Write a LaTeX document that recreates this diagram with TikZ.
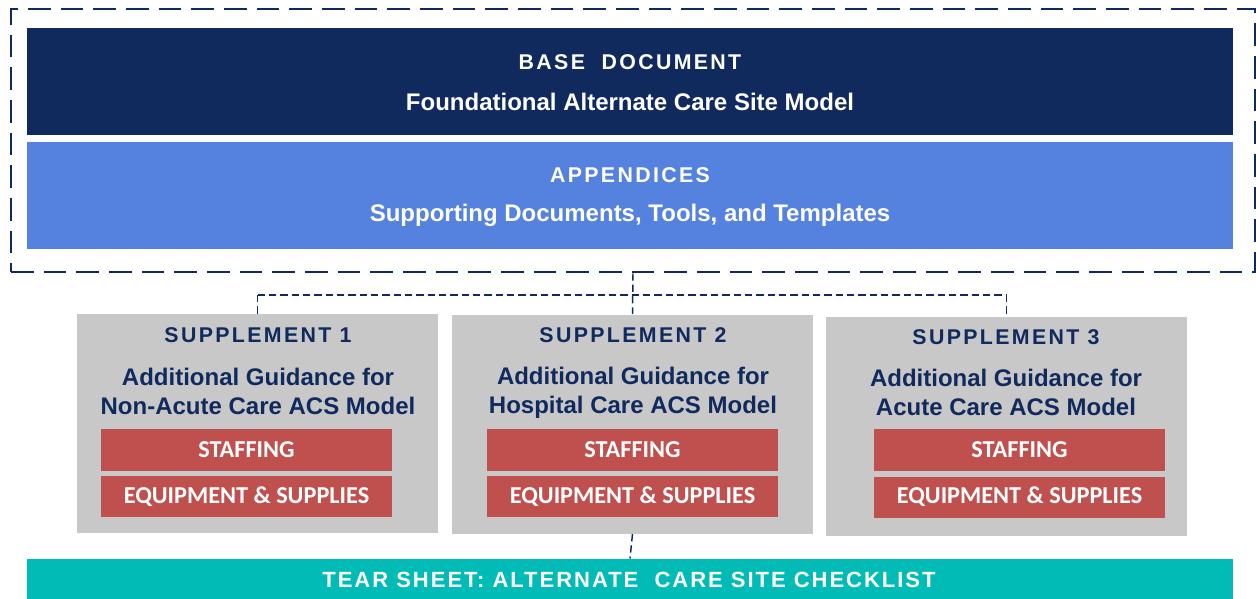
\documentclass[tikz,border=0pt]{standalone}
\usepackage{fontspec}
\setmainfont{Liberation Sans}
\newfontfamily\calfont{Carlito}
\newfontfamily\widefont[LetterSpace=11]{Liberation Sans}
\newfontfamily\tearfont[LetterSpace=9]{Liberation Sans}
\usetikzlibrary{positioning}

\definecolor{navy}{RGB}{16,42,94}
\definecolor{appxblue}{RGB}{84,130,222}
\definecolor{suppgray}{RGB}{200,200,200}
\definecolor{tabred}{RGB}{192,80,77}
\definecolor{tearteal}{RGB}{0,187,182}

\tikzset{every picture/.style={line width=0.75pt}}
\tikzset{
  bigbar/.style={rectangle, inner sep=0pt, minimum width=904.5pt, minimum height=80.25pt},
  suppbox/.style={rectangle, fill=suppgray, inner sep=0pt, minimum width=270.75pt, minimum height=164.25pt},
  tabbox/.style={rectangle, fill=tabred, inner sep=0pt, minimum width=218.25pt, minimum height=31.5pt,
    text=white, font=\calfont\bfseries\fontsize{18.2}{20}\selectfont},
  headtxt/.style={inner sep=0.75pt, font=\widefont\bfseries\fontsize{16}{18}\selectfont},
  subtxt/.style={inner sep=0.75pt, align=center, font=\bfseries\fontsize{18}{21.75}\selectfont},
  link/.style={draw=navy, line width=1.1pt, dash pattern={on 5.5pt off 3pt}}
}

\begin{document}
\begin{tikzpicture}[x=0.75pt,y=0.75pt,yscale=-1,xscale=1]
\useasboundingbox (0,0) rectangle (1256,599);

%Outer group [dashed frame]
\node [rectangle, draw=navy, line width=1.9pt, dash pattern={on 17pt off 7.5pt}, inner sep=0pt,
  minimum width=933pt, minimum height=197.25pt] (grp) at (633,140.5) {};

%Base document
\node [bigbar, fill=navy] (base) at (630,81.5) {};
\node [headtxt, text=white] (basehead) at (630,62) {BASE\ \ DOCUMENT};
\node [subtxt, text=white] (basesub) at (630,102) {Foundational Alternate Care Site Model};

%Appendices
\node [bigbar, fill=appxblue] (appx) at (630,195.5) {};
\node [headtxt, text=white] (appxhead) at (630,175) {APPENDICES};
\node [subtxt, text=white] (appxsub) at (630,215) {Supporting Documents, Tools, and Templates};

%Supplements
\node [suppbox] (supp1) at (257.5,423.5) {};
\node [suppbox] (supp2) at (632.5,424) {};
\node [suppbox] (supp3) at (1006.5,426) {};

\node [headtxt, text=navy] (s1head) at (258,335) {SUPPLEMENT 1};
\node [subtxt, text=navy] (s1sub) at (258,391) {Additional Guidance for\\Non-Acute Care ACS Model};
\node [headtxt, text=navy] (s2head) at (633,335) {SUPPLEMENT 2};
\node [subtxt, text=navy] (s2sub) at (633,393) {Additional Guidance for\\Hospital Care ACS Model};
\node [headtxt, text=navy] (s3head) at (1006,337) {SUPPLEMENT 3};
\node [subtxt, text=navy] (s3sub) at (1006,392) {Additional Guidance for\\Acute Care ACS Model};

%Staffing / equipment tabs
\node [tabbox] (s1staff) at (246.5,449.5) {STAFFING};
\node [tabbox, minimum height=30.75pt] (s1equip) at (246.5,496.5) {EQUIPMENT \& SUPPLIES};
\node [tabbox] (s2staff) at (632.5,449.5) {STAFFING};
\node [tabbox, minimum height=30.75pt] (s2equip) at (632.5,496.5) {EQUIPMENT \& SUPPLIES};
\node [tabbox] (s3staff) at (1019.5,450) {STAFFING};
\node [tabbox, minimum height=30.75pt] (s3equip) at (1019.5,497) {EQUIPMENT \& SUPPLIES};

%Tear sheet
\node [rectangle, fill=tearteal, inner sep=0pt, minimum width=904.5pt, minimum height=31.5pt] (tear) at (630,580) {};
\node [inner sep=0.75pt, text=white, font=\tearfont\bfseries\fontsize{16.5}{18}\selectfont] (tearhead) at (629,580) {TEAR SHEET: ALTERNATE\ \ CARE SITE CHECKLIST};

%Connectors
\coordinate (hub) at (633,295);
\draw [link] (grp.south) -- (supp2.north);
\draw [link] (hub -| supp1.north) -- (hub -| supp3.north);
\draw [link] (hub -| supp1.north) -- (supp1.north);
\draw [link] (hub -| supp3.north) -- (supp3.north);
\draw [link] (supp2.south) -- (tear.north);

\end{tikzpicture}
\end{document}
